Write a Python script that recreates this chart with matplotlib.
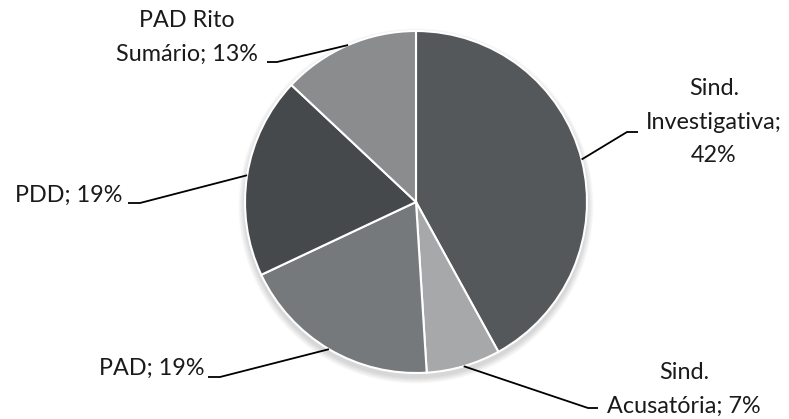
import numpy as np
import matplotlib
matplotlib.use("Agg")
import matplotlib.pyplot as plt
from matplotlib.patches import Circle

plt.rcParams['font.family'] = ['Lato', 'DejaVu Sans']

# data
categorias = ["Sind.\nInvestigativa;\n42%", "Sind.\nAcusatória; 7%", "PAD; 19%",
              "PDD; 19%", "PAD Rito\nSumário; 13%"]
valores = [42, 7, 19, 19, 13]
cores = ["#55585a", "#a6a8a9", "#76797b", "#46494b", "#8a8c8e"]

W, H = 789, 419
cx, cy, r = 416, H - 202, 171

fig = plt.figure(figsize=(W / 100, H / 100), dpi=100)
ax = fig.add_axes([0, 0, 1, 1])

# soft shadow below the pie
for i in range(8):
    ax.add_patch(Circle((cx, cy - 4), r + 1 + i * 0.8, color='black',
                        alpha=0.018, lw=0, zorder=0))

wedges, _ = ax.pie(valores, colors=cores, startangle=90, counterclock=False,
                   center=(cx, cy), radius=r,
                   wedgeprops=dict(edgecolor='white', linewidth=1.5))
for w in wedges:
    w.set_zorder(2)

ax.set_xlim(0, W)
ax.set_ylim(0, H)
ax.set_aspect('equal')
ax.axis('off')

# label positions (pixel coords from the top) and leader elbows
text_pos = [(714, 122), (684, 389), (152, 368), (69, 195), (187, 37)]
elbows = [[(638, 132), (627, 132)],
          [(598, 408), (588, 408)],
          [(208, 377), (220, 377)],
          [(128, 203), (140, 203)],
          [(267, 62), (277, 62)]]

for w, lab, (tx, ty), elb in zip(wedges, categorias, text_pos, elbows):
    ang = np.deg2rad((w.theta1 + w.theta2) / 2)
    ex, ey = cx + r * np.cos(ang), cy + r * np.sin(ang)
    xs = [p[0] for p in elb] + [ex]
    ys = [H - p[1] for p in elb] + [ey]
    ax.plot(xs, ys, color='black', lw=1.3, zorder=3, solid_capstyle='butt')
    ax.text(tx, H - ty, lab, ha='center', va='center', fontsize=16.8,
            linespacing=1.75, color='#1a1a1a', zorder=4)

fig.savefig("out.png", dpi=100)
